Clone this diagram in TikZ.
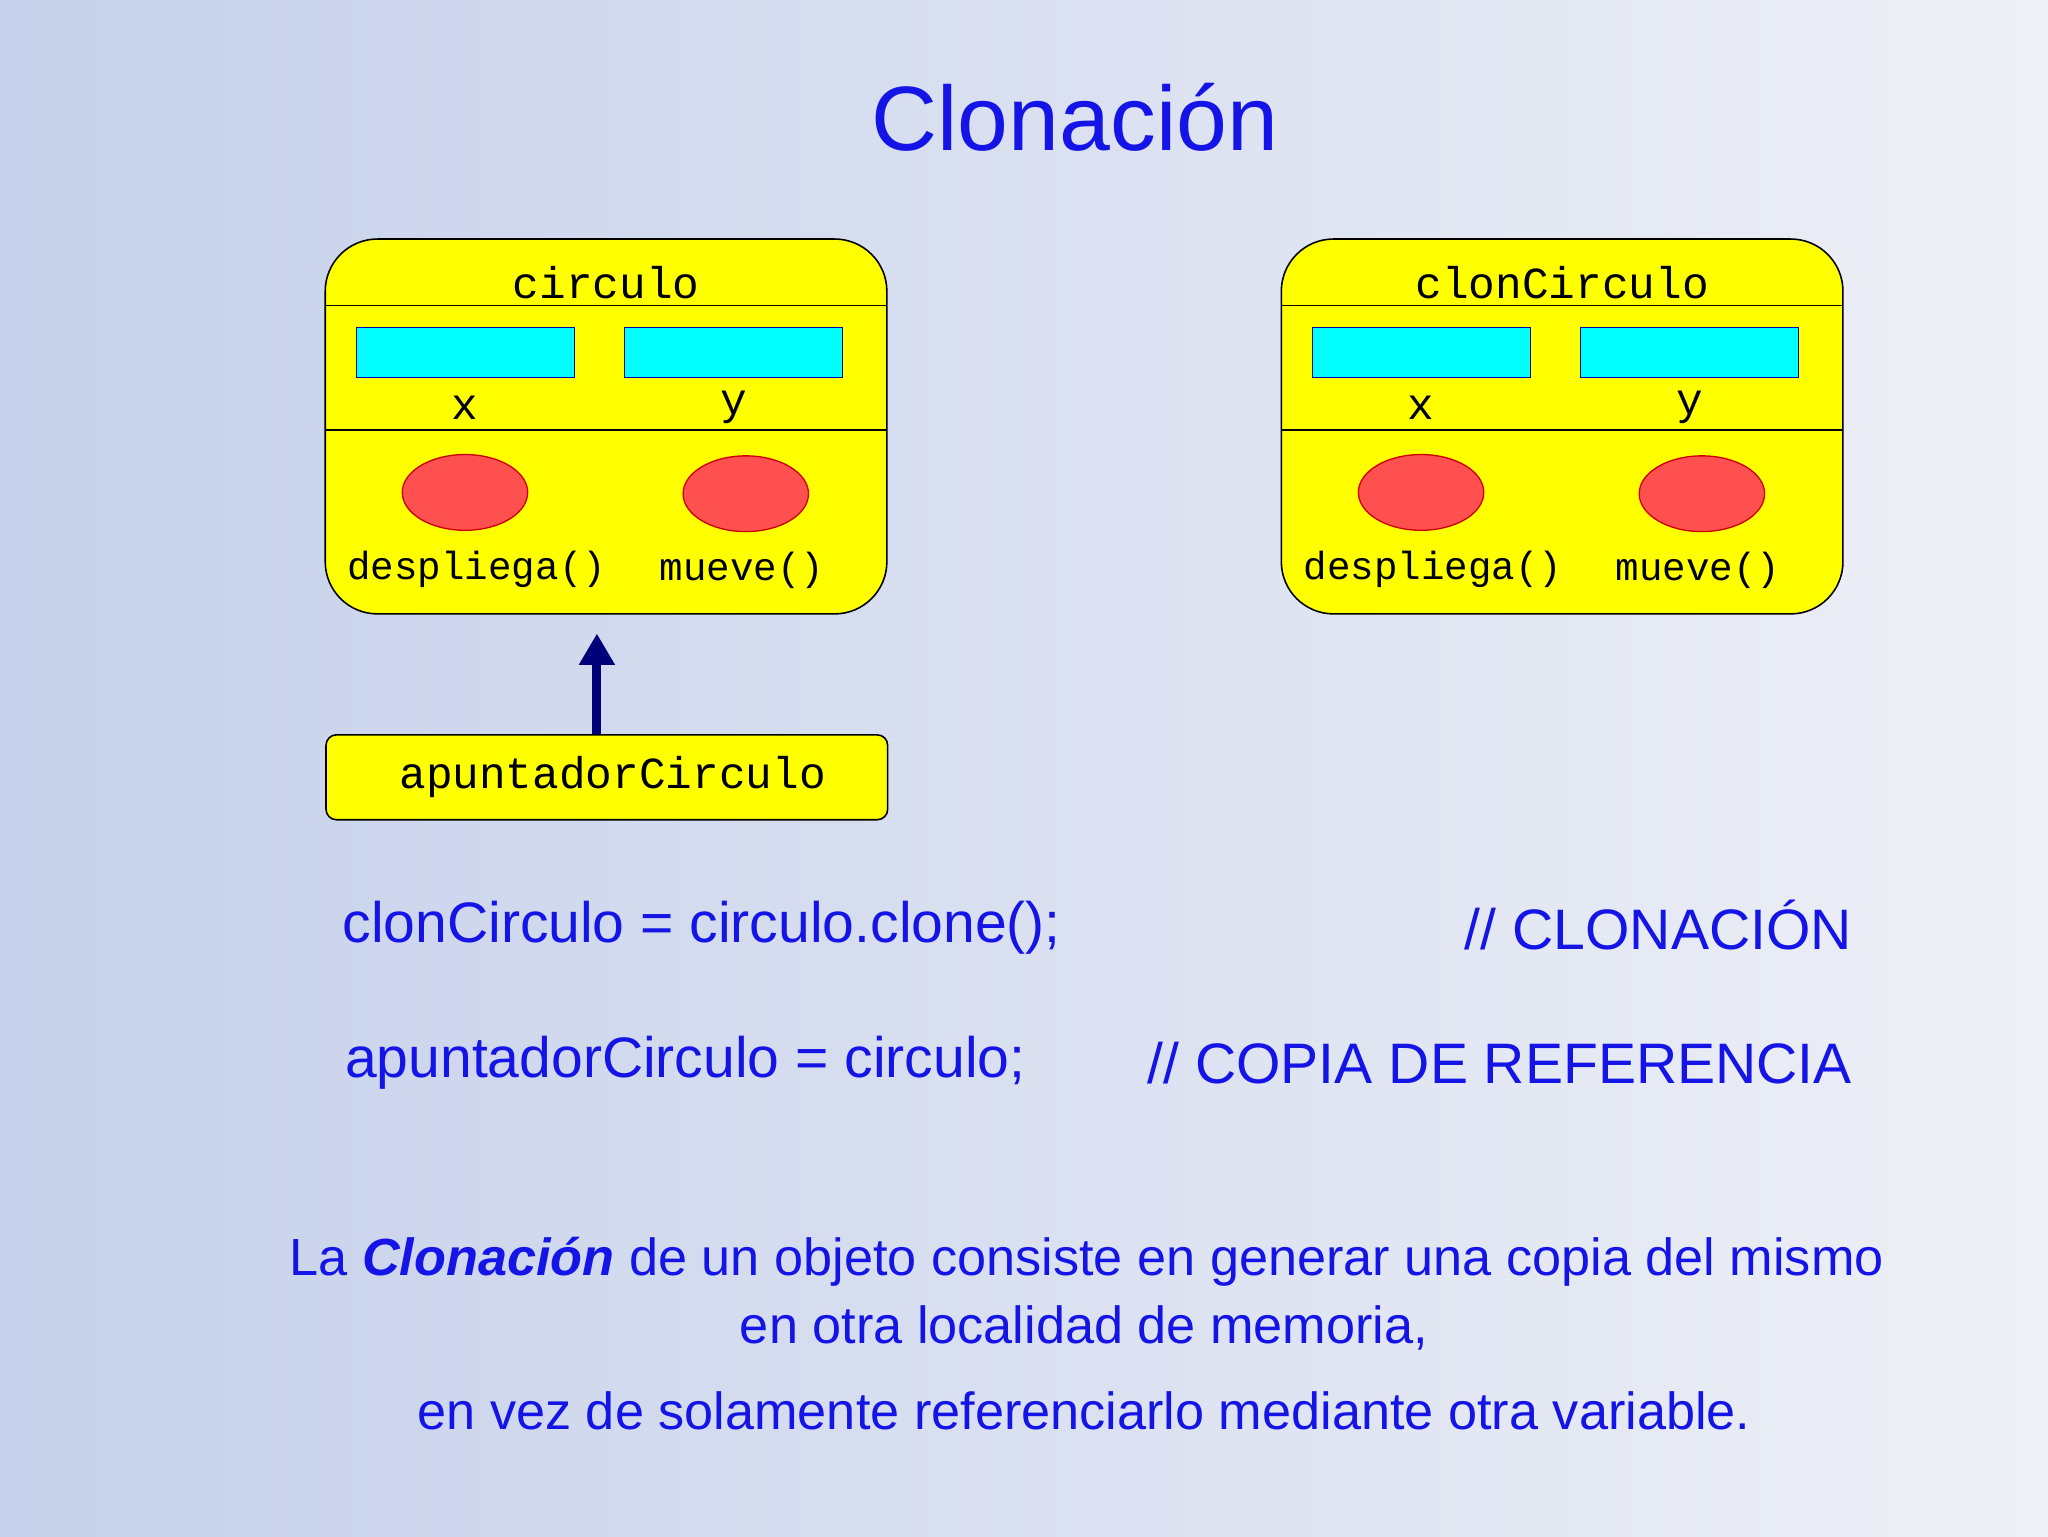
\documentclass[tikz,border=0pt]{standalone}
\usepackage{fontspec}
\setmainfont{Liberation Sans}
\newfontfamily\cour{Liberation Mono}
\usetikzlibrary{arrows.meta}
\definecolor{bgA}{HTML}{C5D0EA}
\definecolor{bgB}{HTML}{EEF0F6}
\definecolor{txtblue}{HTML}{1414E6}
\definecolor{cyanf}{HTML}{00FFFF}
\definecolor{redf}{HTML}{FF5050}
\definecolor{yel}{HTML}{FFFF00}
\tikzset{
 obj/.style={draw=black,fill=yel,line width=1.2pt,rounded corners=40pt},
 field/.style={draw=blue!70!black,fill=cyanf,line width=1pt},
 meth/.style={draw=red!80!black,fill=redf,line width=1pt},
 mono/.style={font=\cour\fontsize{34}{36}\selectfont,inner sep=0pt},
 monos/.style={font=\cour\fontsize{30}{32}\selectfont,inner sep=0pt},
 sans/.style={font=\fontsize{43.7}{48}\selectfont,text=txtblue,inner sep=0pt},
 body/.style={font=\fontsize{40}{44}\selectfont,text=txtblue,inner sep=0pt},
}
\begin{document}
\begin{tikzpicture}[x=1pt,y=-1pt]
\shade[left color=bgA,right color=bgB] (0,0) rectangle (1568,1176);
\useasboundingbox (0,0) rectangle (1568,1176);
\node[font=\fontsize{70}{76}\selectfont,text=txtblue,inner sep=0pt] (title) at (823,90) {Clonación};
\foreach \dx/\nm/\lb in {0/L/circulo,732/R/clonCirculo}{
 \begin{scope}[xshift=\dx]
 \draw[obj] (249,183) rectangle (679,470);
 \draw[line width=1.2pt] (249,234) -- (679,234) (249,329) -- (679,329);
 \node[mono] (t\nm) at (464,216) {\lb};
 \draw[field] (273,251) rectangle (440,289);
 \draw[field] (478,251) rectangle (645,289);
 \node[mono] (x\nm) at (356,312) {x};
 \node[mono] (y\nm) at (562,312) {y};
 \draw[meth] (356,377) ellipse (48 and 29);
 \draw[meth] (571,378) ellipse (48 and 29);
 \node[monos] (d\nm) at (365,436) {despliega()};
 \node[monos] (m\nm) at (568,437) {mueve()};
 \end{scope}
}
\node[obj,rounded corners=8pt,minimum width=430,minimum height=65,anchor=north west,inner sep=0pt] (ap) at (249,562) {};
\node[mono] at (469,595) {apuntadorCirculo};
\coordinate (tip) at (457,485);
\draw[line width=7pt,draw={rgb,255:red,0;green,0;blue,120},-{Triangle[length=24pt,width=26pt]}] (ap.north -| tip) -- (tip);
\node[sans,anchor=west] (c1) at (262,710) {clonCirculo = circulo.clone();};
\node[sans,anchor=east] (c2) at (1418,708) {// CLONACIÓN};
\node[sans,anchor=west] (c3) at (264,814) {apuntadorCirculo = circulo;};
\node[sans,anchor=east] (c4) at (1418,814) {// COPIA DE REFERENCIA};
\node[body] (b1) at (832,966) {La \textbf{\textit{Clonación}} de un objeto consiste en generar una copia del mismo};
\node[body] (b2) at (830,1017) {en otra localidad de memoria,};
\node[body] (b3) at (830,1080) {en vez de solamente referenciarlo mediante otra variable.};
\end{tikzpicture}
\end{document}
